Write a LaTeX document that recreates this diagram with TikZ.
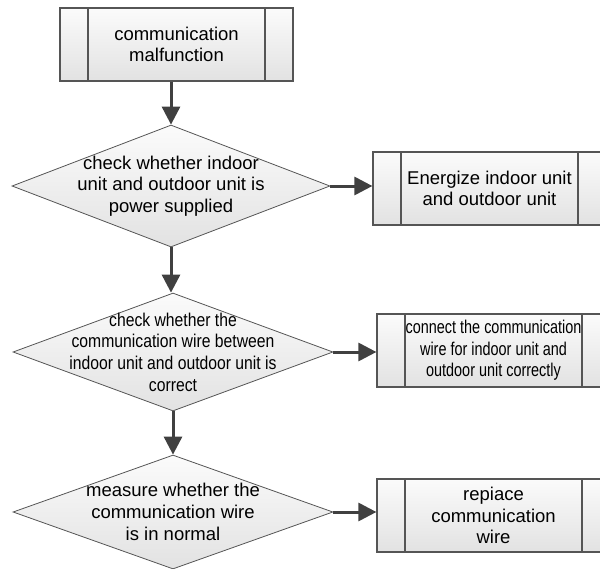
\documentclass[tikz,border=0pt]{standalone}
\usepackage{fontspec}
\setmainfont{Liberation Sans}
\newfontfamily\narrowsf[FakeStretch=0.78]{Liberation Sans}
\newfontfamily\semisf[FakeStretch=0.85]{Liberation Sans}
\usepackage{tikz}
\usetikzlibrary{arrows.meta, positioning, shapes.geometric}
\usepackage{xcolor}

\definecolor{edgegray}{HTML}{555555}
\definecolor{arrowgray}{HTML}{404040}
\definecolor{filltop}{HTML}{FBFBFB}
\definecolor{fillbot}{HTML}{E2E2E2}

\tikzset{
  process/.style={rectangle, draw=edgegray, line width=1.2pt,
    top color=filltop, bottom color=fillbot,
    minimum width=233pt, minimum height=73pt, inner sep=0pt,
    path picture={
      \draw[edgegray, line width=1.2pt]
        ([xshift=28pt]path picture bounding box.north west) -- ([xshift=28pt]path picture bounding box.south west)
        ([xshift=-28pt]path picture bounding box.north east) -- ([xshift=-28pt]path picture bounding box.south east);
    }},
  decision/.style={diamond, draw=edgegray, line width=0.8pt,
    top color=filltop, bottom color=fillbot, inner sep=0pt},
  txt/.style={align=center, inner sep=0pt, font=\fontsize{18.5}{21.7}\selectfont},
  narrowtxt/.style={txt, font=\fontsize{18.5}{21.7}\selectfont\narrowsf},
  semitxt/.style={txt, font=\fontsize{18.5}{21.7}\selectfont\semisf},
  flow/.style={arrowgray, line width=3pt, -{Triangle[length=18pt, width=18pt]}}
}

\begin{document}
\begin{tikzpicture}[x=1pt, y=-1pt]
  \useasboundingbox (0,0) rectangle (600,568);
  % boxes on the left column
  \node[process] (start) at (176.5,44.5) {};
  \node[txt] (startt) at (start) {communication\\malfunction};
  % decisions
  \node[decision, minimum width=318pt, minimum height=122pt] (chk1) at (171,186) {};
  \node[txt] (chk1t) at (chk1) {check whether indoor\\unit and outdoor unit is\\power supplied};
  \node[decision, minimum width=320pt, minimum height=118pt] (chk2) at (173,352) {};
  \node[semitxt] (chk2t) at (chk2) {check whether the\\communication wire between\\indoor unit and outdoor unit is\\correct};
  \node[decision, minimum width=320pt, minimum height=114pt] (chk3) at (173,512) {};
  \node[txt] (chk3t) at (chk3) {measure whether the\\communication wire\\is in normal};
  % actions on the right
  \node[process] (power) at (489.5,188.5) {};
  \node[txt] (powert) at (power) {Energize indoor unit\\and outdoor unit};
  \node[process] (wire) at (493.5,350.5) {};
  \node[narrowtxt] (wiret) at (wire) {connect the communication\\wire for indoor unit and\\outdoor unit correctly};
  \node[process] (repl) at (493.5,515.5) {};
  \node[txt] (replt) at (repl) {repiace\\communication\\wire};
  % arrows
  \draw[flow] (start.south -| chk1.north) -- (chk1.north);
  \draw[flow] (chk1.south) -- (chk1.south |- chk2.north);
  \draw[flow] (chk2.south) -- (chk3.north);
  \draw[flow] (chk1.east) -- (chk1.east -| power.west);
  \draw[flow] (chk2.east) -- (chk2.east -| wire.west);
  \draw[flow] (chk3.east) -- (chk3.east -| repl.west);
\end{tikzpicture}
\end{document}
